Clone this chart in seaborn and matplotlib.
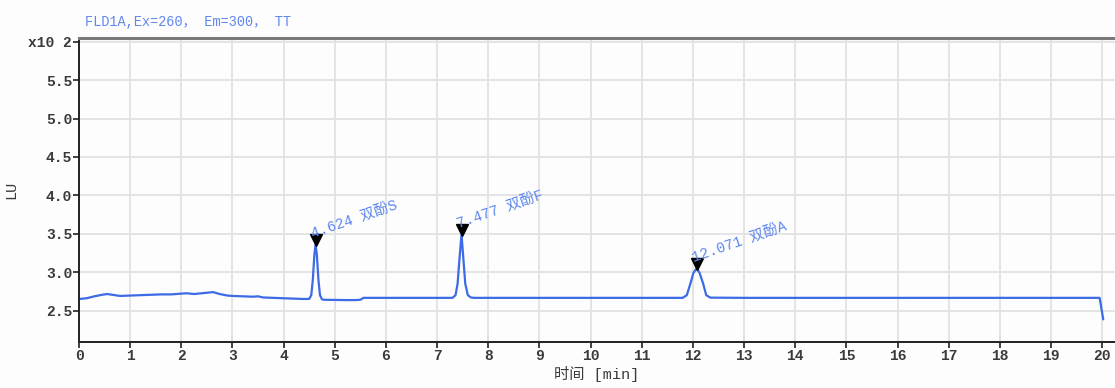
import matplotlib
matplotlib.use("Agg")
import matplotlib.pyplot as plt
import matplotlib.transforms as mtransforms
import seaborn as sns
import pandas as pd

# ---- data ----
time_min = [0.00, 0.15, 0.30, 0.45, 0.55, 0.65, 0.80, 1.00, 1.20, 1.40, 1.60, 1.80,
            2.00, 2.10, 2.25, 2.40, 2.55, 2.62, 2.75, 2.90, 3.00, 3.20, 3.40, 3.50,
            3.60, 3.80, 4.00, 4.20, 4.40, 4.50, 4.54, 4.57, 4.60, 4.624, 4.65, 4.68,
            4.71, 4.75, 4.80, 5.00, 5.20, 5.40, 5.50, 5.56, 6.00, 6.50, 7.00, 7.30,
            7.36, 7.40, 7.44, 7.477, 7.51, 7.55, 7.60, 7.66, 7.72, 8.50, 9.50, 10.50,
            11.50, 11.80, 11.88, 11.95, 12.01, 12.071, 12.13, 12.20, 12.26, 12.34,
            13.00, 14.00, 15.00, 16.00, 17.00, 18.00, 19.00, 19.95, 20.02]
lu_x100 = [2.650, 2.660, 2.685, 2.705, 2.715, 2.705, 2.690, 2.695, 2.700, 2.705, 2.710, 2.710,
           2.720, 2.725, 2.715, 2.725, 2.735, 2.740, 2.715, 2.695, 2.690, 2.685, 2.680, 2.685,
           2.670, 2.665, 2.660, 2.655, 2.650, 2.652, 2.700, 2.900, 3.220, 3.360, 3.220, 2.900,
           2.700, 2.645, 2.640, 2.638, 2.636, 2.636, 2.640, 2.665, 2.665, 2.665, 2.665, 2.665,
           2.700, 2.850, 3.200, 3.490, 3.200, 2.850, 2.700, 2.670, 2.665, 2.665, 2.665, 2.665,
           2.665, 2.665, 2.700, 2.850, 2.990, 3.050, 2.990, 2.850, 2.700, 2.668,
           2.665, 2.665, 2.665, 2.665, 2.665, 2.665, 2.665, 2.665, 2.385]

peak_times = [4.624, 7.477, 12.071]
peak_heights = [3.360, 3.490, 3.050]
peak_names = ["双酚S", "双酚F", "双酚A"]

y_ticks = [2.5, 3.0, 3.5, 4.0, 4.5, 5.0, 5.5, 6.0]
y_tick_labels = ["2.5", "3.0", "3.5", "4.0", "4.5", "5.0", "5.5", "x10 2"]
x_ticks = list(range(0, 21))

title_text = "FLD1A,Ex=260， Em=300， TT"
x_label = "时间 [min]"
y_label = "LU"

# ---- styling ----
sns.set_theme(style="whitegrid")
fam = ["Liberation Mono", "Noto Sans CJK SC", "DejaVu Sans"]
plt.rcParams["font.family"] = fam

line_color = "#3d6be6"
text_blue = "#5f87ec"
dark = "#3a3a3a"

fig = plt.figure(figsize=(11.15, 3.88), dpi=100)
fig.patch.set_facecolor("#fdfdfd")
ax = fig.add_axes([79 / 1115, 1 - 342 / 388, 1 - 79 / 1115, (342 - 38) / 388])
ax.set_facecolor("#fdfdfd")

df = pd.DataFrame({"t": time_min, "v": lu_x100})
sns.lineplot(data=df, x="t", y="v", ax=ax, color=line_color, linewidth=1.6,
             estimator=None, sort=False)

ax.set_xlim(0, 20.25)
ax.set_ylim(2.09, 6.05)
ax.set_xticks(x_ticks)
ax.set_xticklabels([str(x) for x in x_ticks])
ax.set_yticks(y_ticks)
ax.set_yticklabels(y_tick_labels)

ax.grid(True, color="#e2e2e2", linewidth=1.3)
ax.set_axisbelow(True)

for s in ["left", "bottom"]:
    ax.spines[s].set_visible(True)
    ax.spines[s].set_color("#222222")
    ax.spines[s].set_linewidth(1.4)
ax.spines["top"].set_visible(True)
ax.spines["top"].set_color("#7a7a7a")
ax.spines["top"].set_linewidth(2.2)
ax.spines["right"].set_visible(False)

ax.tick_params(axis="both", which="major", direction="out", length=4, width=1.2,
               color="#222222", labelsize=10.5, labelcolor=dark, pad=1,
               left=True, bottom=True)
for lab in ax.get_xticklabels() + ax.get_yticklabels():
    lab.set_family(fam)
    lab.set_fontweight("bold")

ax.set_xlabel(x_label, fontsize=11, color=dark, labelpad=2, family=fam)
ax.set_ylabel(y_label, fontsize=11, color=dark, family=fam)
ax.yaxis.set_label_coords(-61 / 1036, 0.5)

fig.text(85 / 1115, 1 - 22 / 388, title_text, color=text_blue, fontsize=9.8,
         va="center", ha="left", family=fam)

# peak markers and labels
marker_tr = mtransforms.offset_copy(ax.transData, fig=fig, x=0, y=4.5, units="dots")
ax.plot(peak_times, peak_heights, linestyle="none", marker="v", markersize=8,
        color="black", transform=marker_tr, zorder=5)
for t, h, name in zip(peak_times, peak_heights, peak_names):
    ax.annotate(f"{t:.3f} {name}", xy=(t, h), xytext=(-2, 5), textcoords="offset points",
                rotation=19, rotation_mode="anchor", ha="left", va="baseline",
                color=text_blue, fontsize=10.5, family=fam, zorder=6)

fig.savefig("out.png", dpi=100, facecolor=fig.get_facecolor())
